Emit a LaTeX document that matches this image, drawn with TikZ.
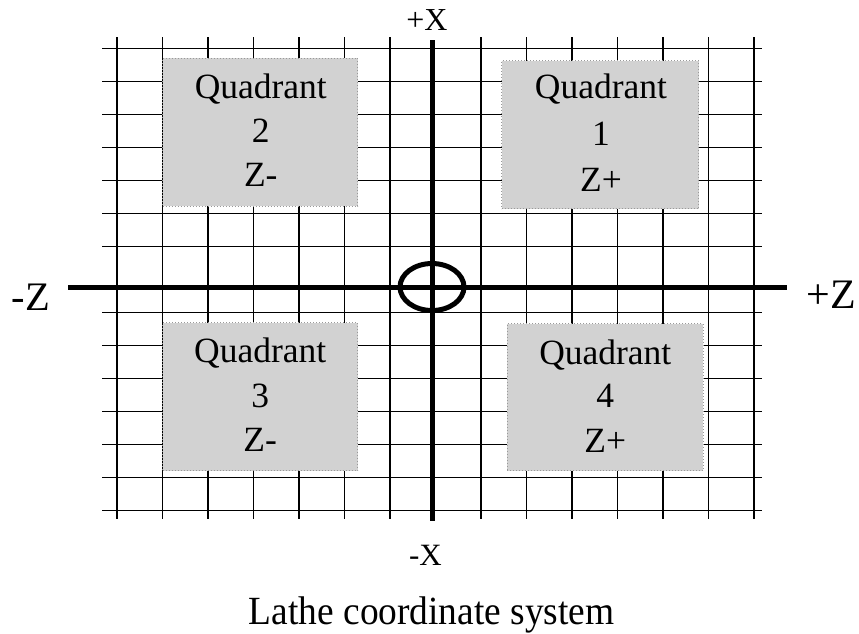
\documentclass[tikz,border=0pt]{standalone}
\usepackage{fontspec}
\setmainfont{Liberation Serif}
\begin{document}
\begin{tikzpicture}[x=1pt,y=-1pt,
  gridline/.style={line width=1.4pt},
  axisline/.style={line width=5pt},
  quad/.style={draw=gray!80, dotted, line width=1pt, fill=gray!35,
    minimum width=195pt, minimum height=148pt, inner sep=0pt},
  qtext/.style={anchor=base, font=\fontsize{35.5}{40}\selectfont, inner sep=0pt},
  lbl/.style={anchor=base, inner sep=0pt}
  ]
\useasboundingbox (0,0) rectangle (859,633);
% grid
\foreach \i in {0,1,2,3,4,5,6,8,9,10,11,12,13,14}{
  \draw[gridline] ({117+45.5*\i},37) -- ({117+45.5*\i},519);
  \draw[gridline] (102,{48.3+33.03*\i}) -- (762,{48.3+33.03*\i});
}
% quadrant boxes
\node[quad] (q2) at (260.1,132.2) {};
\node[quad, minimum width=197pt] (q1) at (600,134.8) {};
\node[quad] (q3) at (260.2,396.9) {};
\node[quad, minimum width=196pt, minimum height=147pt] (q4) at (605.3,397.4) {};
% quadrant texts
\node[qtext] (q2a) at ([xshift=0.7pt,yshift=-40.5pt]q2.north) {Quadrant};
\node[qtext] (q2b) at ([xshift=0.7pt,yshift=-85pt]q2.north) {2};
\node[qtext] (q2c) at ([xshift=0.7pt,yshift=-129pt]q2.north) {Z-};
\node[qtext] (q1a) at ([xshift=1pt,yshift=-38.6pt]q1.north) {Quadrant};
\node[qtext] (q1b) at ([xshift=1pt,yshift=-85pt]q1.north) {1};
\node[qtext] (q1c) at ([xshift=1pt,yshift=-131pt]q1.north) {Z+};
\node[qtext] (q3a) at ([yshift=-40.5pt]q3.north) {Quadrant};
\node[qtext] (q3b) at ([yshift=-85pt]q3.north) {3};
\node[qtext] (q3c) at ([yshift=-129pt]q3.north) {Z-};
\node[qtext] (q4a) at ([yshift=-41pt]q4.north) {Quadrant};
\node[qtext] (q4b) at ([yshift=-84pt]q4.north) {4};
\node[qtext] (q4c) at ([yshift=-129.5pt]q4.north) {Z+};
% axes
\coordinate (zl) at (68,287.5);
\coordinate (zr) at (787,287.5);
\coordinate (xt) at (432,40);
\coordinate (xb) at (432,521);
\coordinate (o) at (432,287);
\draw[axisline] (zl) -- (zr);
\draw[axisline] (xt) -- (xb);
\draw[line width=5pt] (o) ellipse [x radius=32, y radius=23.5];
% labels
\node[lbl, font=\fontsize{32}{36}\selectfont] (px) at (427,30) {+X};
\node[lbl, font=\fontsize{31}{35}\selectfont] (mx) at (425.5,565.5) {-X};
\node[lbl, font=\fontsize{40.5}{45}\selectfont] (mz) at (31,310) {-Z};
\node[lbl, font=\fontsize{42}{46}\selectfont] (pz) at (831,308.3) {+Z};
\node[lbl, font=\fontsize{40}{44}\selectfont] (cap) at (431.7,624) {\scalebox{0.935}[1]{Lathe coordinate system}};
\end{tikzpicture}
\end{document}
